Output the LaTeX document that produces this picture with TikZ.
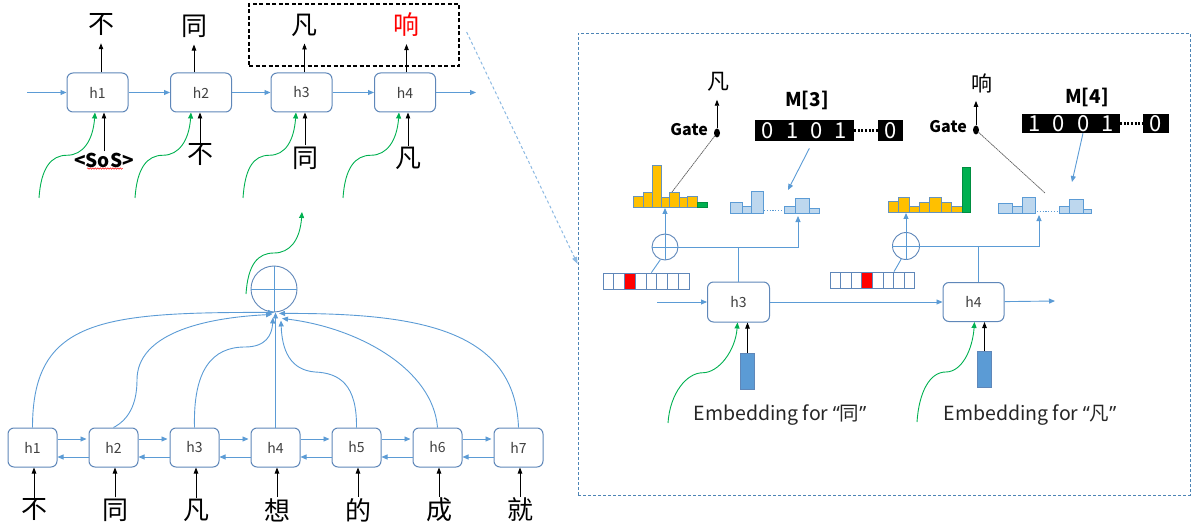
\documentclass[tikz,border=0pt]{standalone}
\usepackage{fontspec}
\setmainfont{Noto Sans CJK SC}
\newfontfamily\latinquote{Noto Sans}
\usetikzlibrary{arrows.meta,calc,positioning,shapes.geometric,decorations.pathmorphing}

\definecolor{lineblue}{RGB}{91,155,213}
\definecolor{boxblue}{RGB}{95,135,185}
\definecolor{barblue}{RGB}{189,215,238}
\definecolor{gold}{RGB}{255,192,0}
\definecolor{leaf}{RGB}{0,176,80}

\newcommand\fsz[1]{\fontsize{#1}{#1}\selectfont}
\newcommand\gap{\hspace{0.55em}}
\newcommand\quoted[1]{{\latinquote “}#1{\latinquote ”}}

% green feedback arrow: rises, flattens, then rises into its target
\newcommand\guide[2]{%
  \draw[guide] (#1) .. controls +(2,-30) and +(-16,0) .. ($(#1)!0.5!(#2)$)
    .. controls +(16,0) and +(-2,28) .. (#2);}

\tikzset{
  cell/.style={draw=boxblue, line width=1pt, rounded corners=6pt, fill=white,
    minimum width=61, minimum height=39, text=black!75, font=\fsz{14}},
  word/.style={inner sep=1pt, font=\fsz{26}},
  flow/.style={draw=lineblue, line width=0.9pt, -{Triangle[length=6pt,width=5pt]}},
  link/.style={draw=lineblue, line width=0.9pt},
  tok/.style={draw=black, line width=0.9pt, -{Triangle[length=6pt,width=4.5pt]}},
  guide/.style={draw=leaf, line width=0.9pt, -{Triangle[length=6pt,width=5pt]}},
  oplus/.style={circle, draw=boxblue, line width=0.9pt, inner sep=0pt},
  bit/.style={draw=boxblue, line width=0.8pt, minimum width=10.7, minimum height=16, inner sep=0pt},
  emb/.style={fill=lineblue, draw=boxblue, line width=0.6pt, minimum width=14, minimum height=36, inner sep=0pt},
  goldbar/.style={fill=gold, draw=lineblue!70!gray, line width=0.6pt},
  greenbar/.style={fill=leaf, draw=leaf!80!black, line width=0.4pt},
  bluebar/.style={fill=barblue, draw=lineblue, line width=0.7pt},
  dotrow/.style={draw=lineblue, line width=1pt, dash pattern=on 1.2pt off 1.6pt},
  bits/.style={fill=black, text=white, inner sep=0pt, minimum height=21, font=\fsz{22}},
  knob/.style={ellipse, fill=black, minimum width=6, minimum height=9, inner sep=0pt},
  gatelabel/.style={inner sep=0pt, anchor=base east, font=\fsz{16}\bfseries},
  title/.style={font=\fsz{19}\bfseries},
  gateline/.style={draw=black!65, line width=0.7pt, dash pattern=on 1.5pt off 0.6pt},
  caption/.style={text=black!85, font=\fsz{19.5}},
}

\begin{document}
\begin{tikzpicture}[x=1pt, y=-1pt]
\useasboundingbox (0,0) rectangle (1195,524);

% Decoder row
\node[cell] (d1) at (97.5,92.5) {h1};
\node[cell] (d2) at (201,92.5) {h2};
\node[cell] (d3) at (301.5,92.5) {h3};
\node[cell] (d4) at (405,92.5) {h4};
\coordinate (din) at (27,92.5);
\coordinate (dout) at (476,92.5);
\draw[flow] (din) -- (d1);
\draw[flow] (d1) -- (d2);
\draw[flow] (d2) -- (d3);
\draw[flow] (d3) -- (d4);
\draw[flow] (d4) -- (dout);

% decoder outputs
\node[word] (o1) at (101,25) {不};
\node[word] (o2) at (194,26) {同};
\node[word] (o3) at (304.5,25) {凡};
\node[word, red] (o4) at (406.5,25) {响};
\foreach \i in {1,...,4}
  \draw[tok, shorten >=6pt] (o\i.south |- d\i.north) -- (o\i.south);

% decoder inputs
\node[word, font=\fsz{19}\bfseries] (i1) at (104,160) {<SoS>};
\node[word] (i2) at (200,155) {不};
\node[word] (i3) at (305,158) {同};
\node[word] (i4) at (408,158) {凡};
\foreach \i in {1,...,4}
  \draw[tok] (i\i.north) -- (i\i.north |- d\i.south);
\draw[red, line width=0.5pt, decorate, decoration={snake, amplitude=0.7pt, segment length=2.5pt}]
  ($(i1.south west)+(14,0)$) -- ($(i1.south east)+(-12,0)$);

% Draw green feeds into the decoder
\foreach \i/\x in {1/39, 2/135, 3/243, 4/343} {
  \coordinate (s\i) at (\x,198);
  \coordinate (t\i) at ($(i\i.north |- d\i.south)+(-9,0)$);
  \guide{s\i}{t\i}
}

% outputs looked at in detail
\node[draw, line width=1.3pt, dash pattern=on 4pt off 2.5pt, minimum width=210,
  minimum height=62, inner sep=0pt] (focus) at (354,35) {};

% Encoder row
\foreach \i in {1,...,7}
  \node[cell, minimum width=49] (e\i) at ({32.5+81*(\i-1)},447.5) {h\i};
\foreach \i/\c in {1/不, 2/同, 3/凡, 4/想, 5/的, 6/成, 7/就} {
  \node[word] (w\i) at ($(e\i)+(1.5,62.5)$) {\c};
  \draw[tok] (w\i.north) -- (w\i.north |- e\i.south);
}
\foreach \i in {1,...,6} {
  \pgfmathtruncatemacro\j{\i+1}
  \draw[flow, shorten >=2pt] ([yshift=8.5pt]e\i.east) -- ([yshift=8.5pt]e\j.west);
  \draw[flow] ([yshift=-9.5pt]e\j.west) -- ([yshift=-9.5pt]e\i.east);
}

% Attention sum over encoder states
\node[oplus, minimum size=46] (sum) at (274,289) {};
\draw[link] (sum.north) -- (sum.south) (sum.west) -- (sum.east);
\draw[flow] (e1.north) .. controls (32.5,320) and (100,312) .. (sum.south);
\draw[flow] (e2.north) .. controls (128,420) and (137,405) .. (137,380)
  .. controls (137,335) and (200,318) .. ($(sum.south)+(-2,2)$);
\draw[flow] (e3.north) .. controls (193,370) and (212,347) .. (245,347)
  .. controls (266,347) and (272,335) .. ($(sum.south)+(-1,5)$);
\draw[flow] (e4.north) -- (e4.north |- sum.south);
\draw[flow] (e5.north) .. controls (357,385) and (340,373) .. (315,372)
  .. controls (290,370) and (282,350) .. ($(sum.south)+(7,8)$);
\draw[flow] (e6.north) .. controls (433,370) and (360,328) .. ($(sum.south)+(8,6)$);
\draw[flow] (e7.north) .. controls (515,330) and (420,313) .. ($(sum.south)+(5,1)$);
\coordinate (s5) at (246,294);
\coordinate (t5) at (302,212);
\guide{s5}{t5}

% Detail panel
\node[draw=lineblue!85!black, line width=0.8pt, dash pattern=on 3pt off 2pt,
  minimum width=612, minimum height=462, inner sep=0pt] (panel) at (884,264) {};
\draw[lineblue!70, line width=1pt, dash pattern=on 3pt off 2.5pt, -{Triangle[length=7pt,width=5pt]}]
  ($(focus.east)+(7,-3)$) -- (panel.west);

\node[cell, minimum width=62, minimum height=40] (r3) at (738.5,302) {h3};
\node[cell] (r4) at (973.5,302) {h4};
\coordinate (rin) at (657,302);
\coordinate (rout) at (1055,301);
\draw[flow] (rin) -- (r3);
\draw[flow] (r3) -- (r4);
\draw[flow] (r4) -- (rout);

% embeddings
\node[emb] (x3) at (747.5,371) {};
\node[emb] (x4) at (984.5,369) {};
\draw[tok] (x3.north) -- (x3.north |- r3.south);
\draw[tok] (x4.north) -- (x4.north |- r4.south);
\node[caption] (l3) at (780,415) {Embedding for \quoted{同}};
\node[caption] (l4) at (1030,415) {Embedding for \quoted{凡}};
\coordinate (s6) at (668,423);
\coordinate (t6) at ($(x3.north |- r3.south)+(-10,0)$);
\guide{s6}{t6}
\coordinate (s7) at (917,422);
\coordinate (t7) at ($(x4.north |- r4.south)+(-10,0)$);
\guide{s7}{t7}

% one-hot positions
\foreach \k/\f in {1/white, 2/white, 3/red, 4/white, 5/white, 6/white, 7/white, 8/white}
  \node[bit, fill=\f] (v3-\k) at ({603+10.75*(\k-0.5)},281) {};
\foreach \k/\f in {1/white, 2/white, 3/white, 4/red, 5/white, 6/white, 7/white, 8/white}
  \node[bit, fill=\f] (v4-\k) at ({830+10.6*(\k-0.5)},280) {};

% combine state and position
\node[oplus, minimum size=26] (c3) at (665,247) {};
\node[oplus, minimum size=27] (c4) at (906,246) {};
\draw[link] (c3.north) -- (c3.south) (c3.west) -- (c3.east);
\draw[link] (c4.north) -- (c4.south) (c4.west) -- (c4.east);
\draw[link] (v3-5.north) -- (c3.250);
\draw[link] (v4-6.north east) -- (c4.250);
\draw[link] (r3.north) -- (r3.north |- c3.east);
\draw[link] ([xshift=4.5pt]r4.north) -- ([xshift=4.5pt]r4.north |- c4.east);
\coordinate (p3) at (798,216);
\coordinate (p4) at (1039,215);
\draw[flow] (c3.east) -| (p3);
\draw[flow] (c4.east) -| (p4);
\coordinate (q3) at (665,208);
\coordinate (q4) at (906,213);
\draw[flow] (c3.north) -- (q3);
\draw[flow] (c4.north) -- (q4);

% output distributions at step 3
\foreach \a/\b/\t in {633/643/196, 643/652/192, 652/661/165, 661/669/197, 669/679/192, 679/687/197, 687/697/196}
  \draw[goldbar] (\a,207) rectangle (\b,\t);
\draw[greenbar] (697,207) rectangle (707,202);
\foreach \a/\b/\t in {730/742/202, 742/751/206, 751/763/191, 784/795/206, 795/809/198, 809/819/208}
  \draw[bluebar] (\a,213) rectangle (\b,\t);
\draw[dotrow] (764,211) -- (783,211);

% output distributions at step 4
\foreach \a/\b/\t in {888/898/201, 898/909/197, 909/919/206, 919/929/202, 929/941/197, 941/951/202, 951/962/206}
  \draw[goldbar] (\a,212) rectangle (\b,\t);
\draw[greenbar] (962,212) rectangle (970,167);
\foreach \a/\b/\t in {998/1012/203, 1012/1022/206, 1022/1035/197, 1059/1069/206, 1069/1083/199, 1083/1091/209}
  \draw[bluebar] (\a,213) rectangle (\b,\t);
\draw[dotrow] (1037,212) -- (1057,212);

% gate and memory at step 3
\node[word, font=\fsz{22}] (a3) at (718,82) {凡};
\node[knob] (k3) at (717,133) {};
\node[gatelabel] (g3) at ($(k3)+(-9,3)$) {Gate};
\draw[tok, shorten >=7pt] (k3) -- (k3 |- a3.south);
\coordinate (y3) at (672,192);
\draw[gateline] (k3) -- (y3);
\node[title] (m3) at (807,100) {M[3]};
\node[bits, minimum width=99] (b3) at (804.5,130.5) {0\gap1\gap0\gap1};
\node[bits, minimum width=25] (b3e) at (890.5,130.5) {0};
\draw[black, line width=2.4pt, dash pattern=on 2pt off 1.6pt] (b3) -- (b3e);
\coordinate (z3) at (788,190);
\draw[flow, shorten <=8pt] ([xshift=8.5pt]b3.south) -- (z3);

% gate and memory at step 4
\node[word, font=\fsz{21}] (a4) at (982,83) {响};
\node[knob] (k4) at (976,130) {};
\node[gatelabel] (g4) at ($(k4)+(-9,3)$) {Gate};
\draw[tok, shorten >=7pt] (k4) -- (k4 |- a4.south);
\coordinate (y4) at (1045,193);
\draw[gateline] (k4) -- (y4);
\node[title] (m4) at (1087,97) {M[4]};
\node[bits, minimum width=98, minimum height=19] (b4) at (1071,123.5) {1\gap0\gap0\gap1};
\node[bits, minimum width=26, minimum height=19] (b4e) at (1156,123.5) {0};
\draw[black, line width=2.4pt, dash pattern=on 2pt off 1.6pt] (b4) -- (b4e);
\coordinate (z4) at (1072,182);
\draw[flow] ([xshift=12pt]b4.south) -- (z4);
\end{tikzpicture}
\end{document}
